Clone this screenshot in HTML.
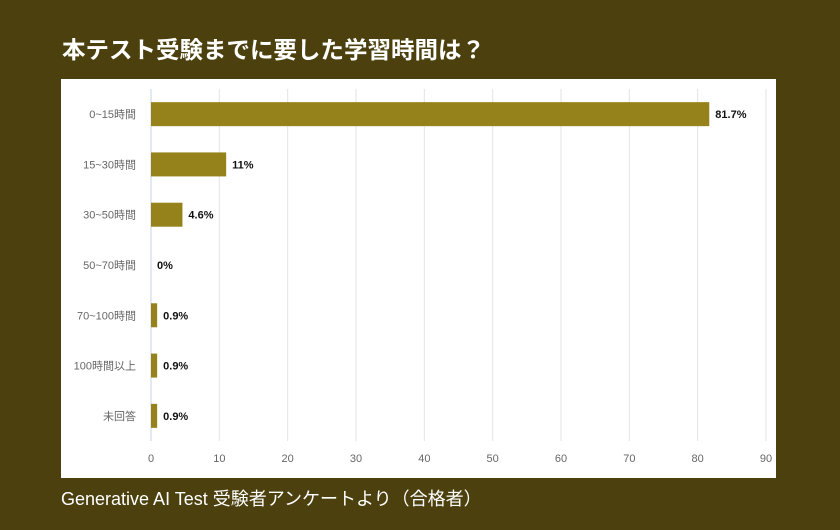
<!DOCTYPE html>
<html><head><meta charset="utf-8"><style>
body{margin:0;width:840px;height:530px;background:#4b400e;font-family:"Liberation Sans","Noto Sans CJK JP",sans-serif;overflow:hidden;position:relative}
#title{position:absolute;left:62px;top:31px;color:#fff;font-size:23.5px;font-weight:bold;margin:0}
#panel{position:absolute;left:61px;top:79px;width:715px;height:399px;background:#fff}
#foot{position:absolute;left:61px;top:485px;color:#fff;font-size:18px}
</style></head><body>
<div id="title">本テスト受験までに要した学習時間は？</div>
<div id="panel">
<svg id="chart" width="715" height="399"></svg>
</div>
<div id="foot">Generative AI Test 受験者アンケートより（合格者）</div>
<script>
const categories=["0~15時間","15~30時間","30~50時間","50~70時間","70~100時間","100時間以上","未回答"];
const values=[81.7,11,4.6,0,0.9,0.9,0.9];
const valueLabels=["81.7%","11%","4.6%","0%","0.9%","0.9%","0.9%"];
const ticks=[0,10,20,30,40,50,60,70,80,90];
const NS="http://www.w3.org/2000/svg";
const svg=document.getElementById('chart');
const x0=90,x1=705,plotTop=10,plotBot=362;
const xs=v=>x0+(v/90)*(x1-x0);
const band=(plotBot-plotTop)/categories.length;
const yc=i=>plotTop+band*(i+0.5);
function mk(t,a){const e=document.createElementNS(NS,t);for(const k in a)e.setAttribute(k,a[k]);svg.appendChild(e);return e;}
ticks.forEach(t=>{
 const g=mk('line',{x1:xs(t),x2:xs(t),y1:plotTop,y2:plotBot,stroke:t===0?'#c5d3e8':'#e3e3e3','stroke-width':1});
 
 
 const l=mk('text',{x:xs(t),y:383,'text-anchor':'middle','font-size':11,fill:'#666'});
 l.textContent=t;
 
 
});
categories.forEach((c,i)=>{
 const y=yc(i);
 const l=mk('text',{x:x0-15,y:y+4,'text-anchor':'end','font-size':11,fill:'#666'});
 l.textContent=c;
 
 
 const w=xs(values[i])-x0;
 const b=mk('rect',{x:x0,y:y-12,width:w,height:24,fill:'#95821a'});
 
 
 const v=mk('text',{x:x0+w+6,y:y+4,'font-size':11,'font-weight':'bold',fill:'#111'});
 v.textContent=valueLabels[i];
 
 
});
</script>
</body></html>
